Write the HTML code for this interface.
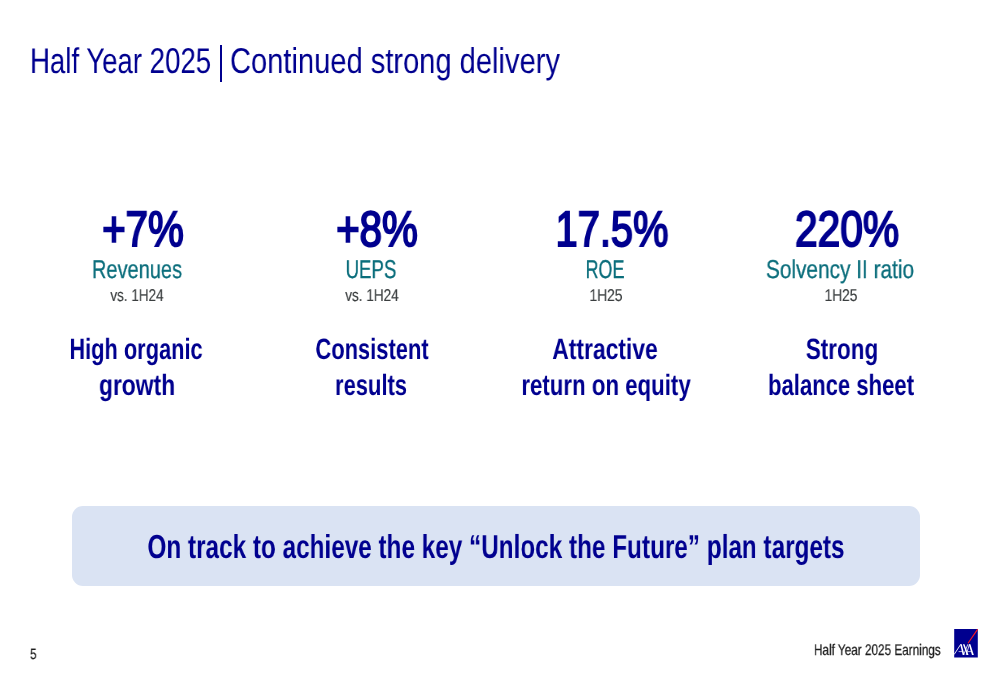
<!DOCTYPE html>
<html><head><meta charset="utf-8"><style>
html,body{margin:0;padding:0;}
body{width:1000px;height:685px;background:#fff;position:relative;overflow:hidden;font-family:"Liberation Sans",sans-serif;}
.t{position:absolute;white-space:nowrap;line-height:1;will-change:transform;text-rendering:geometricPrecision;}
.box{position:absolute;left:71.7px;top:505.5px;width:848.6999999999999px;height:80.70000000000005px;background:#dae3f3;border-radius:11px;}
.logo{position:absolute;}
</style></head><body>
<div class="box"></div>
<div class="t" style="left:29.80px;top:44.11px;font-size:35.785px;font-weight:normal;color:#00008f;transform:scaleX(0.7717);transform-origin:left top;">Half Year 2025</div>
<div class="t" style="left:230.40px;top:44.11px;font-size:35.785px;font-weight:normal;color:#00008f;transform:scaleX(0.8135);transform-origin:left top;">Continued strong delivery</div>
<div class="t" style="left:142.60px;top:204.96px;font-size:49.855px;font-weight:normal;color:#00008f;transform:translateX(-50%) scaleX(0.8086);transform-origin:center top;-webkit-text-stroke:2.0px #00008f;">+7%</div>
<div class="t" style="left:136.60px;top:257.88px;font-size:25.785px;font-weight:normal;color:#0b6e7c;transform:translateX(-50%) scaleX(0.7766);transform-origin:center top;-webkit-text-stroke:0.3px #0b6e7c;">Revenues</div>
<div class="t" style="left:136.50px;top:287.03px;font-size:17.078px;font-weight:normal;color:#3a3e3f;transform:translateX(-50%) scaleX(0.7908);transform-origin:center top;-webkit-text-stroke:0.15px #3a3e3f;">vs. 1H24</div>
<div class="t" style="left:136.20px;top:334.99px;font-size:29.360px;font-weight:bold;color:#00008f;transform:translateX(-50%) scaleX(0.7428);transform-origin:center top;">High organic</div>
<div class="t" style="left:136.50px;top:370.84px;font-size:29.360px;font-weight:bold;color:#00008f;transform:translateX(-50%) scaleX(0.7776);transform-origin:center top;">growth</div>
<div class="t" style="left:377.20px;top:204.96px;font-size:49.855px;font-weight:normal;color:#00008f;transform:translateX(-50%) scaleX(0.8088);transform-origin:center top;-webkit-text-stroke:2.0px #00008f;">+8%</div>
<div class="t" style="left:370.90px;top:257.88px;font-size:25.785px;font-weight:normal;color:#0b6e7c;transform:translateX(-50%) scaleX(0.7228);transform-origin:center top;-webkit-text-stroke:0.3px #0b6e7c;">UEPS</div>
<div class="t" style="left:371.60px;top:287.03px;font-size:17.078px;font-weight:normal;color:#3a3e3f;transform:translateX(-50%) scaleX(0.7958);transform-origin:center top;-webkit-text-stroke:0.15px #3a3e3f;">vs. 1H24</div>
<div class="t" style="left:371.90px;top:334.99px;font-size:29.360px;font-weight:bold;color:#00008f;transform:translateX(-50%) scaleX(0.7460);transform-origin:center top;">Consistent</div>
<div class="t" style="left:370.90px;top:370.84px;font-size:29.360px;font-weight:bold;color:#00008f;transform:translateX(-50%) scaleX(0.7470);transform-origin:center top;">results</div>
<div class="t" style="left:612.30px;top:204.96px;font-size:49.855px;font-weight:normal;color:#00008f;transform:translateX(-50%) scaleX(0.7994);transform-origin:center top;-webkit-text-stroke:2.0px #00008f;">17.5%</div>
<div class="t" style="left:605.40px;top:257.88px;font-size:25.785px;font-weight:normal;color:#0b6e7c;transform:translateX(-50%) scaleX(0.6958);transform-origin:center top;-webkit-text-stroke:0.3px #0b6e7c;">ROE</div>
<div class="t" style="left:606.20px;top:287.03px;font-size:17.078px;font-weight:normal;color:#3a3e3f;transform:translateX(-50%) scaleX(0.8100);transform-origin:center top;-webkit-text-stroke:0.15px #3a3e3f;">1H25</div>
<div class="t" style="left:605.40px;top:334.99px;font-size:29.360px;font-weight:bold;color:#00008f;transform:translateX(-50%) scaleX(0.7798);transform-origin:center top;">Attractive</div>
<div class="t" style="left:605.50px;top:370.84px;font-size:29.360px;font-weight:bold;color:#00008f;transform:translateX(-50%) scaleX(0.7582);transform-origin:center top;">return on equity</div>
<div class="t" style="left:847.20px;top:204.96px;font-size:49.855px;font-weight:normal;color:#00008f;transform:translateX(-50%) scaleX(0.8160);transform-origin:center top;-webkit-text-stroke:2.0px #00008f;">220%</div>
<div class="t" style="left:839.80px;top:257.88px;font-size:25.785px;font-weight:normal;color:#0b6e7c;transform:translateX(-50%) scaleX(0.8081);transform-origin:center top;-webkit-text-stroke:0.3px #0b6e7c;">Solvency II ratio</div>
<div class="t" style="left:841.00px;top:287.03px;font-size:17.078px;font-weight:normal;color:#3a3e3f;transform:translateX(-50%) scaleX(0.8051);transform-origin:center top;-webkit-text-stroke:0.15px #3a3e3f;">1H25</div>
<div class="t" style="left:841.90px;top:334.99px;font-size:29.360px;font-weight:bold;color:#00008f;transform:translateX(-50%) scaleX(0.7653);transform-origin:center top;">Strong</div>
<div class="t" style="left:840.80px;top:370.84px;font-size:29.360px;font-weight:bold;color:#00008f;transform:translateX(-50%) scaleX(0.7518);transform-origin:center top;">balance sheet</div>
<div class="t" style="left:495.80px;top:531.14px;font-size:33.212px;font-weight:bold;color:#00008f;transform:translateX(-50%) scaleX(0.7322);transform-origin:center top;">On track to achieve the key “Unlock the Future” plan targets</div>
<div class="t" style="left:814.00px;top:642.75px;font-size:15.407px;font-weight:normal;color:#1e1e1e;transform:scaleX(0.7635);transform-origin:left top;-webkit-text-stroke:0.25px #1e1e1e;">Half Year 2025 Earnings</div>
<div class="t" style="left:30.00px;top:647.89px;font-size:14.753px;font-weight:normal;color:#1e1e1e;transform:scaleX(0.8000);transform-origin:left top;-webkit-text-stroke:0.25px #1e1e1e;">5</div>
<svg class='logo' style='left:954px;top:629px' width='24' height='29' viewBox='0 0 24 29'><rect x='0.2' y='0' width='23.6' height='28.5' fill='#00008f'/><path d='M23.6 0.3 L14 14.3' stroke='#ff1721' stroke-width='1.1' fill='none'/><g fill='#fff'><path d='M6.2 15.2 L7.8 15.2 L10.4 26 L8.7 26 Z'/><path d='M8.9 15.2 L10.5 15.2 L14.5 26 L12.9 26 Z'/><path d='M14.8 15.2 L16.4 15.2 L19.8 26 L18 26 Z'/></g><g stroke='#fff' fill='none'><path d='M0.2 25.4 L6.7 15.4' stroke-width='0.9'/><path d='M4.6 22.6 L8.6 22.6' stroke-width='0.7'/><path d='M13.8 15.3 L9.6 26' stroke-width='0.8'/><path d='M15.4 15.3 L12.2 26' stroke-width='0.8'/><path d='M13.6 22.6 L17.8 22.6' stroke-width='0.7'/></g></svg>
<div style='position:absolute;left:220.1px;top:45px;width:1.8px;height:37px;background:#00008f'></div>
</body></html>
